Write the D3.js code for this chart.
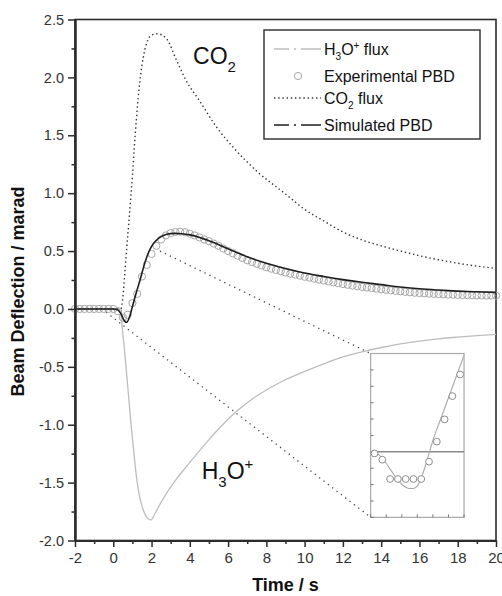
<!DOCTYPE html>
<html>
<head>
<meta charset="utf-8">
<script src="https://cdn.jsdelivr.net/npm/d3@7"></script>
<style>
  body { margin: 0; background: #fff; }
  svg { display: block; font-family: Arial, "Liberation Sans", sans-serif; }
</style>
</head>
<body>
<svg id="chart" width="502" height="596"></svg>
<script>
// ---- axis ticks ----
const xMajorTicks = [-2, 0, 2, 4, 6, 8, 10, 12, 14, 16, 18, 20];
const xMinorTicks = [-1, 1, 3, 5, 7, 9, 11, 13, 15, 17, 19];
const yMajorTicks = [-2.0, -1.5, -1.0, -0.5, 0.0, 0.5, 1.0, 1.5, 2.0, 2.5];
const yMinorTicks = [-1.75, -1.25, -0.75, -0.25, 0.25, 0.75, 1.25, 1.75, 2.25];

// ---- experimental PBD (circles) ----
const expTime = [-2, -1.75, -1.5, -1.25, -1, -0.75, -0.5, -0.25, 0,
  0.25, 0.5, 0.75, 1, 1.25, 1.5, 1.75, 2, 2.25, 2.5, 2.75, 3, 3.25, 3.5, 3.75, 4,
  4.25, 4.5, 4.75, 5, 5.25, 5.5, 5.75, 6, 6.25, 6.5, 6.75, 7, 7.25, 7.5, 7.75, 8,
  8.25, 8.5, 8.75, 9, 9.25, 9.5, 9.75, 10, 10.25, 10.5, 10.75, 11, 11.25, 11.5, 11.75, 12,
  12.25, 12.5, 12.75, 13, 13.25, 13.5, 13.75, 14, 14.25, 14.5, 14.75, 15, 15.25, 15.5, 15.75, 16,
  16.25, 16.5, 16.75, 17, 17.25, 17.5, 17.75, 18, 18.25, 18.5, 18.75, 19, 19.25, 19.5, 19.75, 20];
const expValue = [0, 0, 0, 0, 0, 0, 0, 0, 0,
  -0.02, -0.075, -0.05, 0.05, 0.13, 0.28, 0.38, 0.475, 0.545, 0.60, 0.635, 0.655, 0.665, 0.667, 0.662, 0.65,
  0.635, 0.618, 0.60, 0.585, 0.565, 0.545, 0.522, 0.50, 0.48, 0.46, 0.44, 0.42, 0.405, 0.39, 0.375, 0.36,
  0.348, 0.337, 0.326, 0.315, 0.305, 0.296, 0.287, 0.278, 0.27, 0.261, 0.253, 0.245, 0.237, 0.23, 0.222, 0.215,
  0.209, 0.202, 0.196, 0.19, 0.185, 0.18, 0.175, 0.17, 0.165, 0.161, 0.156, 0.152, 0.148, 0.144, 0.14, 0.137,
  0.135, 0.132, 0.13, 0.128, 0.126, 0.124, 0.123, 0.121, 0.12, 0.119, 0.118, 0.117, 0.116, 0.115, 0.115, 0.114];

// ---- simulated PBD (solid dark line) ----
const simTime = [-2, 0, 0.2, 0.4, 0.55, 0.7, 0.85, 1.0, 1.2, 1.4, 1.6, 1.8, 2.0, 2.2, 2.5, 2.8, 3.2,
  3.6, 4, 5, 6, 7, 8, 9, 10, 11, 12, 13, 14, 15, 16, 17, 18, 19, 20];
const simValue = [0, 0, -0.005, -0.04, -0.095, -0.115, -0.07, 0.02, 0.14, 0.25, 0.37, 0.47, 0.54, 0.585, 0.625, 0.645, 0.653,
  0.65, 0.64, 0.59, 0.52, 0.45, 0.395, 0.35, 0.31, 0.28, 0.253, 0.23, 0.21, 0.19, 0.174, 0.163, 0.154, 0.148, 0.143];

// ---- CO2 flux (dotted line) ----
const co2Time = [-2, 0.4, 0.5, 0.6, 0.7, 0.8, 0.9, 1.0, 1.1, 1.2, 1.3, 1.4, 1.6, 1.8, 2.0, 2.3, 2.6, 2.8,
  3.3, 3.8, 4.5, 5.4, 6.3, 7.5, 9, 10, 11, 12, 13, 14, 15, 16, 17, 18, 19, 20];
const co2Value = [0, 0, 0.1, 0.3, 0.52, 0.72, 0.93, 1.15, 1.4, 1.62, 1.82, 1.98, 2.2, 2.32, 2.365, 2.377, 2.36, 2.33,
  2.15, 1.975, 1.8, 1.57, 1.39, 1.19, 0.993, 0.86, 0.76, 0.665, 0.595, 0.545, 0.50, 0.46, 0.425, 0.395, 0.37, 0.35];

// ---- H3O+ flux (light grey line) ----
const h3oTime = [-2, 0.3, 0.4, 0.45, 0.6, 0.73, 0.85, 0.96, 1.1, 1.22, 1.35, 1.48, 1.65, 1.8, 1.97, 2.2, 2.5,
  2.79, 3.3, 3.83, 4.4, 5.05, 5.6, 6.27, 7, 7.66, 8.88, 10, 11, 12, 13, 14, 15, 16, 17, 18, 19, 20];
const h3oValue = [0, 0, -0.05, -0.13, -0.38, -0.62, -0.85, -1.05, -1.28, -1.46, -1.6, -1.69, -1.77, -1.81, -1.822, -1.76, -1.67,
  -1.59, -1.47, -1.36, -1.245, -1.12, -1.02, -0.91, -0.81, -0.735, -0.62, -0.54, -0.475, -0.415, -0.37, -0.333, -0.302, -0.278, -0.258, -0.243, -0.23, -0.219];

// ---- inset: early-time detail ----
const insetExpTime = [0.05, 0.15, 0.25, 0.35, 0.45, 0.55, 0.65, 0.75, 0.85, 0.95, 1.05, 1.15];
const insetExpValue = [-0.005, -0.024, -0.083, -0.083, -0.083, -0.083, -0.083, -0.03, 0.031, 0.099, 0.17, 0.236];
const insetSimTime = [0, 0.05, 0.1, 0.15, 0.2, 0.25, 0.3, 0.35, 0.4, 0.45, 0.5, 0.55, 0.6, 0.65, 0.7, 0.75, 0.8, 0.9, 1.0, 1.1, 1.2];
const insetSimValue = [0, -0.002, -0.008, -0.02, -0.035, -0.053, -0.07, -0.086, -0.099, -0.108, -0.112, -0.112, -0.104, -0.08, -0.045, -0.005, 0.035, 0.10, 0.165, 0.23, 0.295];
const insetXTicks = [0, 0.2, 0.4, 0.6, 0.8, 1.0, 1.2];
const insetYTicks = [-0.2, -0.15, -0.1, -0.05, 0.05, 0.1, 0.15, 0.2, 0.25];

const svg = d3.select("#chart");
const margin = { left: 75, right: 6, top: 19.5, bottom: 55.5 };
const W = 502, H = 596;

const x = d3.scaleLinear().domain([-2, 20]).range([margin.left, W - margin.right]);
const y = d3.scaleLinear().domain([-2.0, 2.5]).range([H - margin.bottom, margin.top]);

const axisColor = "#2b2b2b";

// plot frame (top and right sides)
svg.append("rect")
  .attr("x", x(-2)).attr("y", y(2.5))
  .attr("width", x(20) - x(-2)).attr("height", y(-2) - y(2.5))
  .attr("fill", "none").attr("stroke", axisColor).attr("stroke-width", 1.6);

// ---- zoom connector lines ----
const inset = { t0: 13.45, t1: 18.33, v0: -1.80, v1: -0.385 };
const ix = d3.scaleLinear().domain([0, 1.2]).range([x(inset.t0), x(inset.t1)]);
const iy = d3.scaleLinear().domain([-0.2, 0.3]).range([y(inset.v0), y(inset.v1)]);

const connectors = [
  { from: [-0.6, 0.0], to: [ix(0), iy(-0.2)] },
  { from: [2.44, 0.50], to: [ix(0), iy(0.3)] }
];
svg.append("g").selectAll("line").data(connectors).join("line")
  .attr("x1", d => x(d.from[0])).attr("y1", d => y(d.from[1]))
  .attr("x2", d => d.to[0]).attr("y2", d => d.to[1])
  .attr("stroke", "#444").attr("stroke-width", 1.3)
  .attr("stroke-dasharray", "1.3,4.2");

// ---- curves ----
const line = d3.line().curve(d3.curveMonotoneX);

svg.append("path")
  .attr("d", line(h3oTime.map((t, i) => [x(t), y(h3oValue[i])])))
  .attr("fill", "none").attr("stroke", "#bdbdbd").attr("stroke-width", 1.3);

svg.append("path")
  .attr("d", line(co2Time.map((t, i) => [x(t), y(co2Value[i])])))
  .attr("fill", "none").attr("stroke", "#333").attr("stroke-width", 1.4)
  .attr("stroke-dasharray", "1.4,2.8");

svg.append("g").selectAll("circle").data(expTime).join("circle")
  .attr("cx", d => x(d)).attr("cy", (d, i) => y(expValue[i]))
  .attr("r", 3.6).attr("fill", "none").attr("stroke", "#a6a6a6").attr("stroke-width", 1);

svg.append("path")
  .attr("d", line(simTime.map((t, i) => [x(t), y(simValue[i])])))
  .attr("fill", "none").attr("stroke", "#1e1e1e").attr("stroke-width", 1.6);

// ---- inset ----
const gi = svg.append("g");
gi.append("rect")
  .attr("x", ix(0)).attr("y", iy(0.3))
  .attr("width", ix(1.2) - ix(0)).attr("height", iy(-0.2) - iy(0.3))
  .attr("fill", "#fff").attr("stroke", "#a8a8a8").attr("stroke-width", 1.2);
gi.append("line")
  .attr("x1", ix(0)).attr("x2", ix(1.2)).attr("y1", iy(0)).attr("y2", iy(0))
  .attr("stroke", "#8a8a8a").attr("stroke-width", 1.4);
gi.append("g").selectAll("line").data(insetYTicks).join("line")
  .attr("x1", ix(0)).attr("x2", ix(0) + 3).attr("y1", d => iy(d)).attr("y2", d => iy(d))
  .attr("stroke", "#777").attr("stroke-width", 1);
gi.append("g").selectAll("line").data(insetXTicks).join("line")
  .attr("x1", d => ix(d)).attr("x2", d => ix(d)).attr("y1", iy(-0.2)).attr("y2", iy(-0.2) - 3)
  .attr("stroke", "#777").attr("stroke-width", 1);
gi.append("path")
  .attr("d", line(insetSimTime.map((t, i) => [ix(t), iy(insetSimValue[i])])))
  .attr("fill", "none").attr("stroke", "#a8a8a8").attr("stroke-width", 1.1);
gi.append("g").selectAll("circle").data(insetExpTime).join("circle")
  .attr("cx", d => ix(d)).attr("cy", (d, i) => iy(insetExpValue[i]))
  .attr("r", 3.4).attr("fill", "#fff").attr("stroke", "#8c8c8c").attr("stroke-width", 1);

// ---- axes ----
function styleAxis(g) {
  g.selectAll(".domain").attr("stroke", axisColor).attr("stroke-width", 2);
  g.selectAll(".tick line").attr("stroke", axisColor).attr("stroke-width", 1.5);
  g.selectAll(".tick text").attr("fill", "#333").attr("font-family", "Arial, 'Liberation Sans', sans-serif");
}

svg.append("g").attr("transform", `translate(0,${y(-2)})`)
  .call(d3.axisBottom(x).tickValues(xMinorTicks).tickSize(3.5).tickSizeOuter(0).tickFormat(""))
  .call(styleAxis);
svg.append("g").attr("transform", `translate(0,${y(-2)})`)
  .call(d3.axisBottom(x).tickValues(xMajorTicks).tickSize(6.5).tickSizeOuter(0).tickPadding(5).tickFormat(d => String(d)))
  .call(styleAxis)
  .call(g => g.selectAll(".tick text").attr("font-size", 15));

svg.append("g").attr("transform", `translate(${x(-2)},0)`)
  .call(d3.axisLeft(y).tickValues(yMinorTicks).tickSize(3.5).tickSizeOuter(0).tickFormat(""))
  .call(styleAxis);
svg.append("g").attr("transform", `translate(${x(-2)},0)`)
  .call(d3.axisLeft(y).tickValues(yMajorTicks).tickSize(7).tickSizeOuter(0).tickPadding(4).tickFormat(d => d.toFixed(1)))
  .call(styleAxis)
  .call(g => g.selectAll(".tick text").attr("font-size", 14.5));

// axis titles
svg.append("text")
  .attr("x", (x(-2) + x(20)) / 2).attr("y", 591)
  .attr("text-anchor", "middle").attr("font-weight", "bold").attr("font-size", 18)
  .attr("fill", "#111").text("Time / s");
svg.append("text")
  .attr("transform", `translate(24,${y(0.15)}) rotate(-90)`)
  .attr("text-anchor", "middle").attr("font-weight", "bold").attr("font-size", 18)
  .attr("fill", "#111").text("Beam Deflection / marad");

// ---- in-plot labels ----
const co2Label = svg.append("text")
  .attr("x", x(4.17)).attr("y", y(2.115))
  .attr("font-size", 23).attr("fill", "#111");
co2Label.append("tspan").text("CO");
co2Label.append("tspan").attr("font-size", 15).attr("dy", 8).text("2");

const h3oLabel = svg.append("text")
  .attr("x", x(4.62)).attr("y", y(-1.47))
  .attr("font-size", 23).attr("fill", "#111");
h3oLabel.append("tspan").text("H");
h3oLabel.append("tspan").attr("font-size", 15).attr("dy", 8).text("3");
h3oLabel.append("tspan").attr("dy", -8).text("O");
h3oLabel.append("tspan").attr("font-size", 15).attr("dy", -10).text("+");

// ---- legend ----
const legend = svg.append("g");
legend.append("rect")
  .attr("x", 264).attr("y", 30).attr("width", 216).attr("height", 109)
  .attr("fill", "#fff").attr("stroke", axisColor).attr("stroke-width", 1.4);

const legendRows = [
  { label: ["H", "3", "O", "+", " flux"], kind: "h3o", cy: 49 },
  { label: ["Experimental PBD"], kind: "exp", cy: 76 },
  { label: ["CO", "2", " flux"], kind: "co2", cy: 98 },
  { label: ["Simulated PBD"], kind: "sim", cy: 125 }
];

legendRows.forEach(r => {
  if (r.kind === "exp") {
    legend.append("circle").attr("cx", 298).attr("cy", r.cy).attr("r", 3.6)
      .attr("fill", "none").attr("stroke", "#a6a6a6").attr("stroke-width", 1);
  } else {
    const st = {
      h3o: { c: "#bdbdbd", w: 1.3, dash: "15,5,2,5,20" },
      co2: { c: "#333", w: 1.4, dash: "1.4,2.8" },
      sim: { c: "#1e1e1e", w: 1.6, dash: "15,5,2,5,20" }
    }[r.kind];
    legend.append("line").attr("x1", 274).attr("x2", 321).attr("y1", r.cy).attr("y2", r.cy)
      .attr("stroke", st.c).attr("stroke-width", st.w).attr("stroke-dasharray", st.dash);
  }
  const t = legend.append("text").attr("x", 324).attr("y", r.cy + 6)
    .attr("font-size", 16).attr("fill", "#111");
  if (r.kind === "h3o") {
    t.append("tspan").text("H");
    t.append("tspan").attr("font-size", 10).attr("dy", 5).text("3");
    t.append("tspan").attr("dy", -5).text("O");
    t.append("tspan").attr("font-size", 10).attr("dy", -6).text("+");
    t.append("tspan").attr("dy", 6).text(" flux");
  } else if (r.kind === "co2") {
    t.append("tspan").text("CO");
    t.append("tspan").attr("font-size", 10).attr("dy", 5).text("2");
    t.append("tspan").attr("dy", -5).text(" flux");
  } else {
    t.text(r.label[0]);
  }
});
</script>
</body>
</html>
